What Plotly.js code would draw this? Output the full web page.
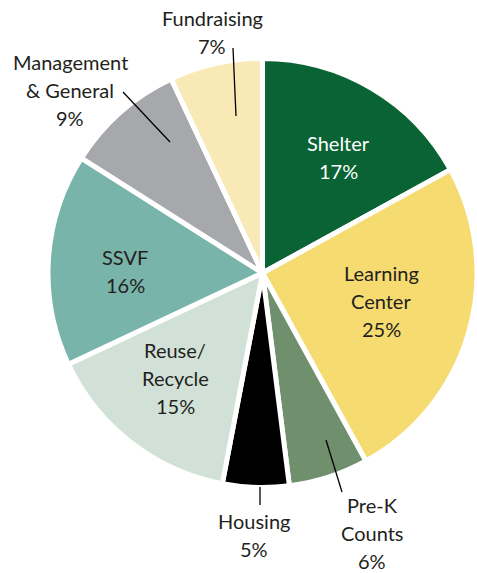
<!DOCTYPE html>
<html>
<head>
<meta charset="utf-8">
<script src="https://cdn.plot.ly/plotly-3.0.1.min.js"></script>
<style>html,body{margin:0;padding:0;background:#fff;}#chart{width:477px;height:573px;}</style>
</head>
<body>
<div id="chart"></div>
<script>
// ---- data ----
var labels = ['Shelter', 'Learning<br>Center', 'Pre-K<br>Counts', 'Housing', 'Reuse/<br>Recycle', 'SSVF', 'Management<br>& General', 'Fundraising'];
var values = [17, 25, 6, 5, 15, 16, 9, 7];
var colors = ['#0a6334', '#f5db70', '#6f8f6d', '#000000', '#d1e1d7', '#78b4a9', '#a7a8ab', '#f8e9b6'];
var textColors = ['#ffffff', '#231f20', '#231f20', '#231f20', '#231f20', '#231f20', '#231f20', '#231f20'];

// ---- layout helpers (pixel positions of label centres and leader lines) ----
var W = 477, H = 573;
var labelPos = [[338, 157], [381, 301], [372, 533], [254, 535], [175, 378], [125, 271], [70, 90], [212, 32]];
var leaders = [null, null, [[326, 440], [342, 492]], [[260, 487], [260, 505]], null, null, [[123, 92], [170, 142]], null];
leaders[7] = [[233, 48], [236, 116]];
function px(x) { return x / W; }
function py(y) { return 1 - y / H; }

var cx = 262.5, cy = 273, r = 214.5;

var annotations = [];
var lineGap = 28;
labels.forEach(function (lab, i) {
  var lines = lab.split('<br>').concat([values[i] + '%']);
  var n = lines.length;
  lines.forEach(function (t, j) {
    annotations.push({
      xref: 'paper', yref: 'paper',
      x: px(labelPos[i][0]), y: py(labelPos[i][1] + (j - (n - 1) / 2) * lineGap),
      xanchor: 'center', yanchor: 'middle',
      text: t, showarrow: false,
      font: { family: 'Lato, sans-serif', size: 20, color: textColors[i] }
    });
  });
});

var shapes = [];
leaders.forEach(function (l) {
  if (!l) return;
  shapes.push({
    type: 'line', xref: 'paper', yref: 'paper',
    x0: px(l[0][0]), y0: py(l[0][1]), x1: px(l[1][0]), y1: py(l[1][1]),
    line: { color: '#000000', width: 1.3 }
  });
});

var trace = {
  type: 'pie',
  labels: labels,
  values: values,
  sort: false,
  direction: 'clockwise',
  rotation: 0,
  textinfo: 'none',
  hoverinfo: 'label+percent',
  marker: { colors: colors, line: { color: '#ffffff', width: 5 } },
  domain: { x: [(cx - r) / W, (cx + r) / W], y: [1 - (cy + r) / H, 1 - (cy - r) / H] },
  showlegend: false
};

var layout = {
  width: W, height: H,
  margin: { l: 0, r: 0, t: 0, b: 0 },
  paper_bgcolor: '#ffffff',
  annotations: annotations,
  shapes: shapes,
  showlegend: false
};

Plotly.newPlot('chart', [trace], layout, { displayModeBar: false, staticPlot: true });
</script>
</body>
</html>
